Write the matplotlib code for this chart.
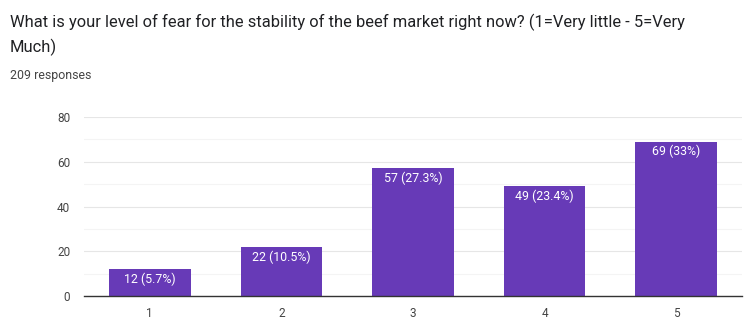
import matplotlib

matplotlib.use("Agg")
import matplotlib.pyplot as plt

plt.rcParams["font.family"] = ["Roboto", "DejaVu Sans"]

categories = ["1", "2", "3", "4", "5"]
counts = [12, 22, 57, 49, 69]
percents = ["5.7%", "10.5%", "27.3%", "23.4%", "33%"]
y_ticks = [0, 20, 40, 60, 80]

title_lines = ["What is your level of fear for the stability of the beef market right now? (1=Very little - 5=Very",
               "Much)"]
subtitle = "209 responses"

W, H = 749, 331
fig = plt.figure(figsize=(W / 100, H / 100), dpi=100)
for line, ypx in zip(title_lines, (22, 47)):
    fig.text(10 / W, 1 - ypx / H, line, fontsize=11.9, color="#202124", va="center")
fig.text(10 / W, 1 - 75 / H, subtitle, fontsize=8.9, color="#444444", va="center")

ax = fig.add_axes([84 / W, 35 / H, 658 / W, 179 / H])
x = range(len(categories))
bars = ax.bar(x, counts, width=0.62, color="#673ab7", zorder=3)
for bar, n, p in zip(bars, counts, percents):
    ax.annotate(f"{n} ({p})", (bar.get_x() + bar.get_width() / 2, n),
                xytext=(0, -2.5), textcoords="offset points",
                ha="center", va="top", color="white", fontsize=8.9, zorder=4)

ax.set_xlim(-0.5, len(categories) - 0.5)
ax.set_ylim(0, 80)
ax.set_xticks(list(x), categories)
ax.set_yticks(y_ticks)
ax.set_yticks(range(10, 80, 20), minor=True)
ax.grid(axis="y", which="major", color="#e6e6e6", linewidth=0.8, zorder=0)
ax.grid(axis="y", which="minor", color="#f4f4f4", linewidth=0.8, zorder=0)
ax.tick_params(axis="both", which="both", length=0, labelsize=8.5, labelcolor="#444444")
ax.tick_params(axis="x", pad=8)
ax.tick_params(axis="y", pad=10)
for side in ("top", "right", "left"):
    ax.spines[side].set_visible(False)
ax.spines["bottom"].set_color("#333333")
ax.spines["bottom"].set_linewidth(1)
ax.spines["bottom"].set_zorder(5)

fig.savefig("out.png", dpi=100, facecolor="white")
